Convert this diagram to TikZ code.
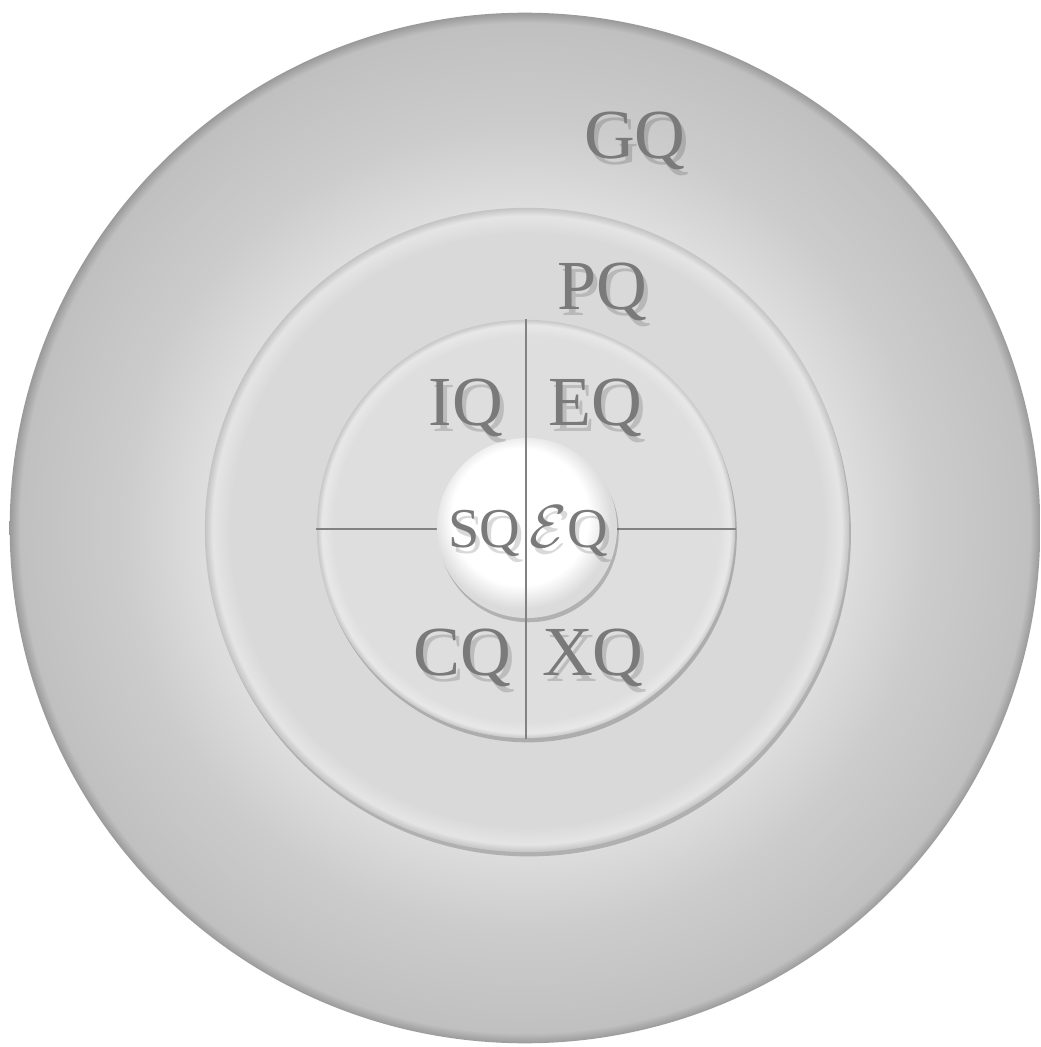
\documentclass[tikz,border=0pt]{standalone}
\usepackage{fontspec}
\setmainfont{Liberation Serif}
\usepackage{amsmath}
\usetikzlibrary{shadows}
\definecolor{halogray}{RGB}{222,222,222}
\definecolor{midgray}{RGB}{204,204,204}
\definecolor{rimgray}{RGB}{192,192,192}
\definecolor{ringgray}{RGB}{217,217,217}
\definecolor{coregray}{RGB}{222,222,222}
\definecolor{labelgray}{RGB}{122,122,122}
\definecolor{linegray}{RGB}{130,130,130}
% radial shadings: the path edge sits at 25bp
\pgfdeclareradialshading{outerdisc}{\pgfpoint{0bp}{0bp}}{color(0bp)=(halogray); color(15.5bp)=(halogray); color(19.5bp)=(midgray); color(24.5bp)=(rimgray); color(25bp)=(rimgray!80!black); color(50bp)=(rimgray!80!black)}
\pgfdeclareradialshading{ringdisc}{\pgfpoint{0bp}{0bp}}{color(0bp)=(ringgray); color(23bp)=(ringgray); color(24.4bp)=(ringgray!70!white); color(25bp)=(ringgray!90!black); color(50bp)=(ringgray!90!black)}
\pgfdeclareradialshading{coredisc}{\pgfpoint{0bp}{0bp}}{color(0bp)=(coregray); color(23bp)=(coregray); color(24.4bp)=(coregray!70!white); color(25bp)=(coregray!90!black); color(50bp)=(coregray!90!black)}
\pgfdeclareradialshading{whitedisc}{\pgfpoint{-3bp}{5bp}}{color(0bp)=(white); color(19bp)=(white); color(25bp)=(black!14); color(50bp)=(black!14)}
\tikzset{
	disc/.style={
		circle,
		inner sep=0pt,
		minimum size=#1
	},
	softshadow/.style={
		drop shadow={shadow xshift=0.5pt,shadow yshift=-1.2pt,opacity=0.2,fill=black}
	},
	crossline/.style={
		draw=linegray,
		line width=0.55pt
	},
	qlabel/.style={
		text=labelgray,
		inner sep=0pt,
		anchor=base
	},
	qshadow/.style={
		qlabel,
		text=black,
		text opacity=0.15
	}
}

\begin{document}
\begin{tikzpicture}[x=0.01cm,y=0.01cm]
	
	% --- CANVAS ---
	\fill[white] (0,0) rectangle (1041,1047);
	\useasboundingbox (0,0) rectangle (1041,1047);
	
	% --- DISCS ---
	\node[disc=10.3cm, shade, shading=outerdisc] (gqdisc) at (525,519) {};
	\node[disc=6.44cm, shade, shading=ringdisc, softshadow] (pqdisc) at (527,517) {};
	\node[disc=4.18cm, shade, shading=coredisc, softshadow] (core) at (526,518) {};
	
	% --- CROSS (horizontal under the centre, vertical over it) ---
	\draw[crossline] (core.west) -- (core.east);
	\node[disc=1.8cm, shade, shading=whitedisc, softshadow] (centre) at (527,519) {};
	\draw[crossline] (core.north) -- (core.south);
	
	% --- LABELS ---
	\foreach \nm/\txt/\px/\py/\fs in {
		gq/GQ/635/889/20,
		pq/PQ/602/738/20,
		iq/IQ/466/622/20,
		eq/EQ/595/622/20,
		cq/CQ/462/372/20,
		xq/XQ/593/372/20,
		sq/SQ/484/500/16,
		epq/{$\mathcal{E}$Q}/569/500/16} {
		\node[qshadow, font=\fontsize{\fs}{\fs}\selectfont] at (\px+4,\py-6) {\txt};
		\node[qlabel, font=\fontsize{\fs}{\fs}\selectfont] (\nm) at (\px,\py) {\txt};
	}
	
\end{tikzpicture}
\end{document}
